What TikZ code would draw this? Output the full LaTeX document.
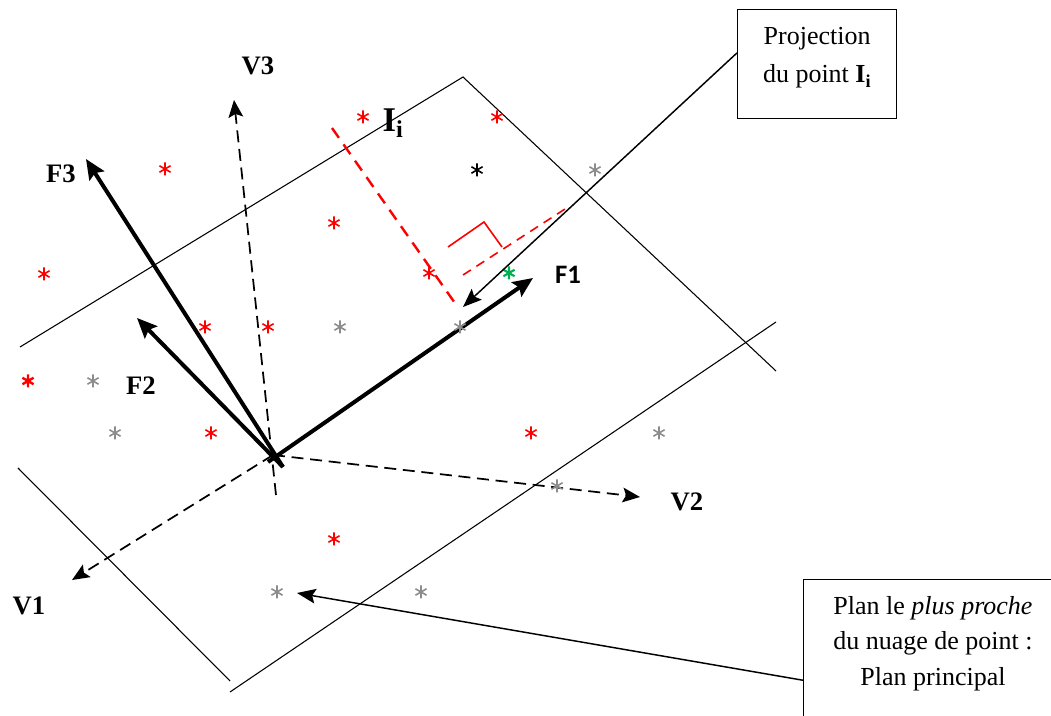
\documentclass[tikz,border=0pt]{standalone}
\usepackage{fontspec}
\setmainfont{Liberation Serif}
\newfontfamily\calibri{Carlito}
\usetikzlibrary{arrows.meta}
\definecolor{gris}{RGB}{140,140,140}
\definecolor{vert}{RGB}{0,176,80}

\begin{document}
\begin{tikzpicture}[x=0.75pt, y=-0.75pt,
    etiq/.style={font=\fontsize{20}{24}\selectfont\bfseries},
    bordplan/.style={line width=0.8pt},
    facteur/.style={line width=3pt, -{Stealth[length=15pt, width=13pt, inset=2.5pt]}},
    ancvar/.style={line width=1.3pt, dash pattern=on 9pt off 5pt, -{Stealth[length=13pt, width=11pt, inset=2.5pt]}},
    boite/.style={draw, line width=1pt, inner sep=0pt, anchor=north west},
    renvoi/.style={line width=1.1pt, -{Stealth[length=14pt, width=11pt, inset=2.5pt]}},
    nuage/.style={line width=1.2pt},
    etoile/.pic={\draw (0,-6.5) -- (0,6.5) (-5.6,-3.25) -- (5.6,3.25) (-5.6,3.25) -- (5.6,-3.25);}]

    \useasboundingbox (0,0) rectangle (1051,716);
    \clip (0,0) rectangle (1051,716);

    % plans (bords visibles)
    \coordinate (P1) at (20,347);
    \coordinate (P2) at (463,77);
    \coordinate (P3) at (776,371);
    \coordinate (Q1) at (18,468);
    \coordinate (Q2) at (230,681);
    \coordinate (Q3) at (230,692);
    \coordinate (Q4) at (776,322);
    \draw[bordplan] (P1) -- (P2) -- (P3);
    \draw[bordplan] (Q1) -- (Q2);
    \draw[bordplan] (Q3) -- (Q4);

    % origine et extremites des axes
    \coordinate (O) at (273,455);
    \coordinate (O1) at (268,462);
    \coordinate (O2) at (283,467);
    \coordinate (O3) at (276,495);
    \coordinate (V1) at (72,580);
    \coordinate (V2) at (640,497);
    \coordinate (V3) at (234,100);
    \coordinate (F1) at (533,278);
    \coordinate (F2) at (137,318);
    \coordinate (F3) at (86,159);

    % anciennes variables (pointilles)
    \draw[ancvar] (O) -- (V1);
    \draw[ancvar] (O) -- (V2);
    \draw[ancvar] (O3) -- (V3);

    % axes factoriels
    \draw[facteur] (O1) -- (F1);
    \draw[facteur] (O2) -- (F2);
    \draw[facteur] (O2) -- (F3);

    % projection du point Ii
    \coordinate (I) at (332,128);
    \coordinate (H) at (457,306);
    \coordinate (K1) at (463,275);
    \coordinate (K2) at (565,209);
    \draw[red, line width=1.8pt, dash pattern=on 9pt off 6pt] (I) -- (H);
    \draw[red, line width=1.2pt, dash pattern=on 7pt off 5pt] (K1) -- (K2);
    \draw[red, line width=1.2pt] (448,247) -- (484,222) -- (502,247);

    % nuage de points
    \pic[nuage, red] at (363,117) {etoile};
    \pic[nuage, red] at (497,117) {etoile};
    \pic[nuage, red] at (165,169) {etoile};
    \pic[nuage, red] at (334,223) {etoile};
    \pic[nuage, red] at (44,274) {etoile};
    \pic[nuage, red] at (429,273) {etoile};
    \pic[nuage, red] at (205,327) {etoile};
    \pic[nuage, red] at (268,327) {etoile};
    \pic[nuage, red, line width=1.8pt] at (28,381) {etoile};
    \pic[nuage, red] at (211,433) {etoile};
    \pic[nuage, red] at (531,433) {etoile};
    \pic[nuage, red] at (334,539) {etoile};
    \pic[nuage] at (477,170) {etoile};
    \pic[nuage, vert, line width=1.6pt] at (509,273) {etoile};
    \pic[nuage, gris] at (595,170) {etoile};
    \pic[nuage, gris] at (340,327) {etoile};
    \pic[nuage, gris] at (460,327) {etoile};
    \pic[nuage, gris] at (93,381) {etoile};
    \pic[nuage, gris] at (115,433) {etoile};
    \pic[nuage, gris] at (659,433) {etoile};
    \pic[nuage, gris] at (557,486) {etoile};
    \pic[nuage, gris] at (277,592) {etoile};
    \pic[nuage, gris] at (421,592) {etoile};

    % etiquettes
    \node[etiq] (nV1) at (29,606) {V1};
    \node[etiq] (nV2) at (687,502) {V2};
    \node[etiq] (nV3) at (258,66) {V3};
    \node[etiq] (nF1) at (568,275) {\calibri F1};
    \node[etiq] (nF2) at (141,386) {F2};
    \node[etiq] (nF3) at (61,174) {F3};
    \node[etiq, font=\fontsize{26}{30}\selectfont\bfseries] (nI) at (393,123) {I\textsubscript{i}};

    % encadres et renvois
    \node[boite] (proj) at (737,9) {\parbox[t][81.75pt][t]{119.25pt}{\centering
        \fontsize{19.5}{29}\selectfont\rule{0pt}{26pt}Projection\\du point \textbf{I\textsubscript{i}}}};
    \node[boite] (pp) at (803,579) {\parbox[t][120pt][t]{194pt}{\centering
        \fontsize{19.5}{26.6}\selectfont\rule{0pt}{26pt}Plan le \textit{plus proche}\\du nuage de point :\\Plan principal}};
    \coordinate (Pa) at (463,307);
    \coordinate (Pb) at (297,593);
    \draw[renvoi] (proj.172) -- (Pa);
    \draw[renvoi] (pp.189) -- (Pb);

\end{tikzpicture}
\end{document}
